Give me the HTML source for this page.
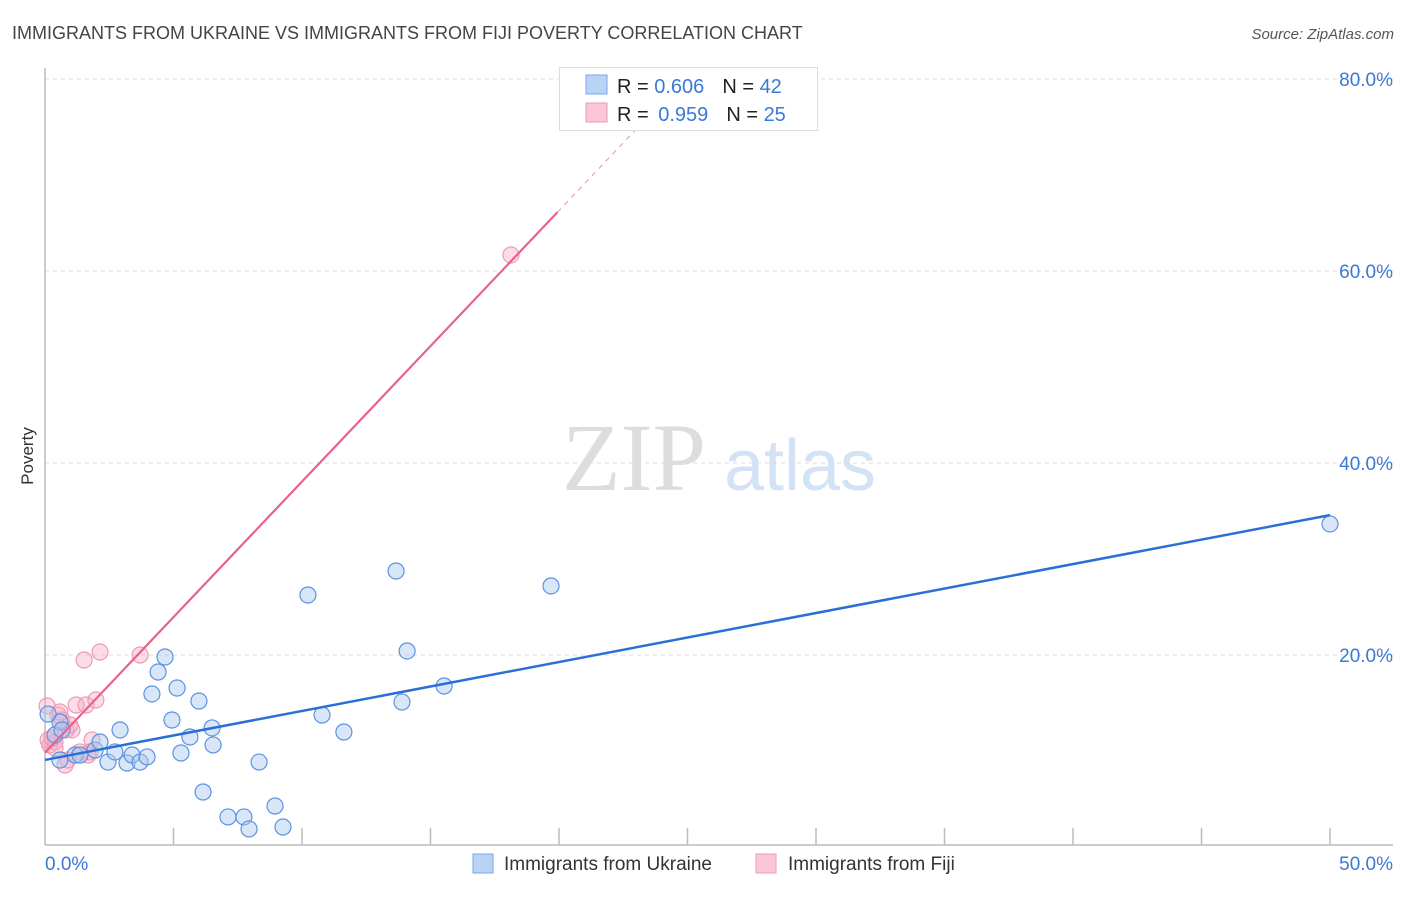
<!DOCTYPE html>
<html><head><meta charset="utf-8"><style>
html,body{margin:0;padding:0;background:#fff;}
body{width:1406px;height:892px;overflow:hidden;font-family:"Liberation Sans",sans-serif;}
</style></head><body>
<svg id="chart" width="1406" height="892" xmlns="http://www.w3.org/2000/svg" font-family="Liberation Sans, sans-serif">
<text x="12" y="39" font-size="18" fill="#444">IMMIGRANTS FROM UKRAINE VS IMMIGRANTS FROM FIJI POVERTY CORRELATION CHART</text>
<text x="1394" y="39" font-size="15" fill="#555" font-style="italic" text-anchor="end">Source: ZipAtlas.com</text>
<text transform="translate(33,456) rotate(-90)" font-size="17" fill="#333" text-anchor="middle">Poverty</text>
<g>
<text x="634" y="490" font-size="96" fill="#ddd" font-family="Liberation Serif, serif" text-anchor="middle">ZIP</text>
<text x="800" y="490" font-size="72" fill="#d4e2f5" text-anchor="middle">atlas</text>
</g>
<g id="grid"></g>
<g id="axes"></g>
<g id="marks"></g>
<g>
<rect x="559.5" y="67.5" width="258" height="63" fill="#fff" stroke="#ddd"/>
<rect x="586" y="75" width="21" height="19" fill="#b9d3f5" stroke="#7aa6e6"/>
<rect x="586" y="103" width="21" height="19" fill="#fbc6d5" stroke="#ee9ab3"/>
<text x="617" y="93" font-size="20" fill="#222">R = <tspan fill="#3b78d8">0.606</tspan><tspan dx="18">N = </tspan><tspan fill="#3b78d8">42</tspan></text>
<text x="617" y="121" font-size="20" fill="#222">R = <tspan fill="#3b78d8" dx="4">0.959</tspan><tspan dx="18">N = </tspan><tspan fill="#3b78d8">25</tspan></text>
</g>
<g>
<rect x="473" y="854" width="20" height="19" fill="#b9d3f5" stroke="#7aa6e6"/>
<text x="504" y="870" font-size="19" fill="#333">Immigrants from Ukraine</text>
<rect x="756" y="854" width="20" height="19" fill="#fbc6d5" stroke="#ee9ab3"/>
<text x="788" y="870" font-size="19" fill="#333">Immigrants from Fiji</text>
</g>
</svg>
<script>
const ukraineX=[0.39,0.58,0.66,0.12,0.58,1.17,1.36,1.95,2.14,2.45,2.72,2.92,3.19,3.39,3.70,3.97,4.16,4.40,4.67,4.94,5.14,5.29,5.64,5.99,6.15,6.50,6.54,7.12,7.74,7.94,8.33,8.95,9.26,10.23,10.78,11.63,13.66,13.89,14.09,15.53,19.69,50.0];
const ukraineY=[11.67,13.02,12.19,13.85,9.06,9.58,9.58,10.10,10.94,8.85,9.90,12.19,8.75,9.58,8.85,9.38,15.94,18.23,19.79,13.23,16.56,9.79,11.46,15.21,5.73,12.40,10.63,3.13,3.13,1.88,8.85,4.27,2.08,26.25,13.75,11.98,28.75,15.10,20.42,16.77,27.19,33.65];
const fijiX=[0.08,0.19,0.39,0.51,0.66,0.78,0.89,1.05,1.21,1.36,1.52,1.60,1.67,1.83,1.98,2.14,3.70,18.13,0.12,0.39,0.82,0.97,1.75,0.58,0.27];
const fijiY=[14.69,10.63,10.94,13.75,13.23,8.54,9.06,12.19,14.79,9.90,19.48,14.79,9.58,11.15,15.31,20.31,20.00,61.67,11.15,10.31,12.19,12.71,9.90,14.06,11.35];
const yTicks=[20,40,60,80];
const yTickLabels=["20.0%","40.0%","60.0%","80.0%"];
const xTicks=[5,10,15,20,25,30,35,40,45,50];
const xEndLabels=["0.0%","50.0%"];
const NS="http://www.w3.org/2000/svg";
const X0=45,X1=1330,Y0=847,YPX=9.6;
function sx(v){return X0+(X1-X0)*v/50;}
function sy(v){return Y0-v*YPX;}
function mk(tag,attrs,parent){const e=document.createElementNS(NS,tag);for(const k in attrs)e.setAttribute(k,attrs[k]);parent.appendChild(e);return e;}
const grid=document.getElementById('grid'),axes=document.getElementById('axes'),marks=document.getElementById('marks');
yTicks.forEach((t,i)=>{
 const l=mk('line',{x1:45,x2:1393,y1:sy(t),y2:sy(t),stroke:'#ddd','stroke-dasharray':'4,4'},grid);
 
 
 const tx=mk('text',{x:1393,y:sy(t)+7,'font-size':19,fill:'#3b78d8','text-anchor':'end'},axes);
 tx.textContent=yTickLabels[i];
 
 
});
const ax=mk('line',{x1:45,x2:1393,y1:845,y2:845,stroke:'#bbb','stroke-width':1.5},axes);


const ay=mk('line',{x1:45,x2:45,y1:68,y2:845,stroke:'#bbb','stroke-width':1.5},axes);


xTicks.forEach(t=>{
 const l=mk('line',{x1:sx(t),x2:sx(t),y1:828,y2:845,stroke:'#bbb','stroke-width':1.5},axes);
 
 
});
const xl0=mk('text',{x:45,y:870,'font-size':19,fill:'#3b78d8'},axes);xl0.textContent=xEndLabels[0];


const xl1=mk('text',{x:1393,y:870,'font-size':19,fill:'#3b78d8','text-anchor':'end'},axes);xl1.textContent=xEndLabels[1];


function fit(xs,ys){const n=xs.length;let mx=0,my=0;for(let i=0;i<n;i++){mx+=xs[i];my+=ys[i];}mx/=n;my/=n;let a=0,b=0;for(let i=0;i<n;i++){a+=(xs[i]-mx)*(ys[i]-my);b+=(xs[i]-mx)**2;}const s=a/b;return [s,my-s*mx];}
function pts(xs,ys,fill,stroke,name){xs.forEach((x,i)=>{const c=mk('circle',{cx:sx(x),cy:sy(ys[i]),r:8,fill:fill,stroke:stroke,'stroke-width':1.2},marks);
 
 });}
pts(fijiX,fijiY,'rgba(248,170,195,0.4)','#ee9ab3','point-fiji');
pts(ukraineX,ukraineY,'rgba(170,200,240,0.45)','#5b92e0','point-ukraine');
const [bs,bi]=fit(ukraineX,ukraineY);
const bl=mk('line',{x1:sx(0),y1:sy(bi),x2:sx(50),y2:sy(bi+bs*50),stroke:'#2a6fd6','stroke-width':2.5},marks);


const [ps,pi]=fit(fijiX,fijiY);
const xmax=Math.max(...fijiX)*1.1;
const xd=(76-pi)/ps;
const pl=mk('line',{x1:sx(0),y1:sy(pi),x2:sx(xmax),y2:sy(pi+ps*xmax),stroke:'#e8628c','stroke-width':2.2},marks);


const pd=mk('line',{x1:sx(xmax),y1:sy(pi+ps*xmax),x2:sx(xd),y2:sy(76),stroke:'#f0a0b8','stroke-width':1.2,'stroke-dasharray':'5,5'},marks);


</script>
</body></html>
